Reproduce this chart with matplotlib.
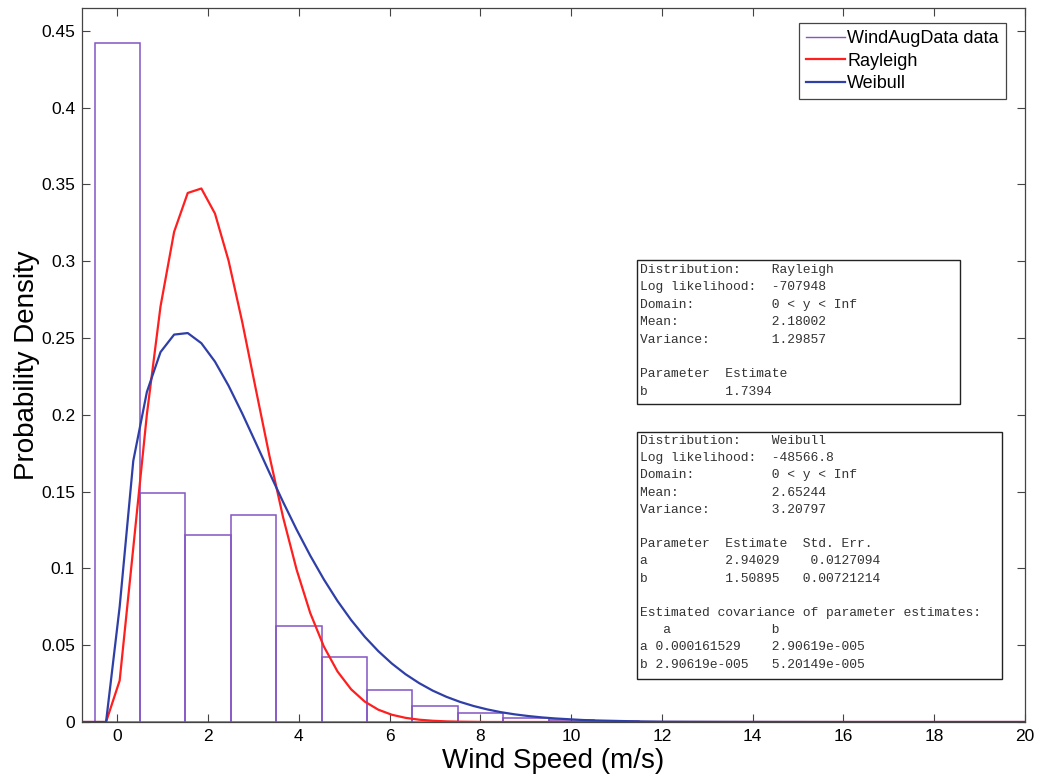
import matplotlib.pyplot as plt
from matplotlib.lines import Line2D
from matplotlib.patches import Rectangle
from matplotlib.ticker import FormatStrFormatter

plt.rcParams['font.family'] = ['Liberation Sans', 'DejaVu Sans']

# histogram of the wind data (bins of width 1, centred on integers)
bin_centers = [0, 1, 2, 3, 4, 5, 6, 7, 8, 9, 10, 11, 12]
bin_heights = [0.442, 0.149, 0.1215, 0.1346, 0.0627, 0.0423, 0.0208,
               0.0104, 0.0057, 0.0028, 0.0012, 0.0006, 0.0003]

# fitted curves
fit_x = [-0.78, -0.25, 0.05, 0.35, 0.65, 0.95, 1.25, 1.55, 1.85, 2.15,
         2.45, 2.75, 3.05, 3.35, 3.65, 3.95, 4.25, 4.55, 4.85, 5.15,
         5.45, 5.75, 6.05, 6.35, 6.65, 6.95, 7.25, 7.55, 7.85, 8.15,
         8.45, 8.75, 9.05, 9.35, 9.65, 9.95, 10.25, 10.55, 10.85, 11.15,
         11.45, 12.05, 13.25, 14.45, 16.25, 18.05, 20.0]
rayleigh_y = [0, 0, 0.027, 0.1134, 0.2003, 0.2705, 0.3191, 0.3444, 0.3473, 0.331,
              0.3003, 0.2605, 0.2167, 0.1733, 0.1334, 0.0991, 0.0709, 0.0491, 0.0329, 0.0213,
              0.0133, 0.0080, 0.0047, 0.0027, 0.0015, 0.0008, 0.0004, 0.0002, 0.0001, 0,
              0, 0, 0, 0, 0, 0, 0, 0, 0, 0,
              0, 0, 0, 0, 0, 0, 0]
weibull_y = [0, 0, 0.075, 0.170, 0.2149, 0.2408, 0.2522, 0.2532, 0.2466, 0.2346,
             0.2189, 0.2009, 0.1817, 0.1623, 0.1433, 0.1252, 0.1083, 0.0928, 0.0788, 0.0664,
             0.0555, 0.0461, 0.0380, 0.0311, 0.0253, 0.0204, 0.0164, 0.0131, 0.0104, 0.0082,
             0.0064, 0.0050, 0.0039, 0.0030, 0.0023, 0.0018, 0.0013, 0.0010, 0.0008, 0.0006,
             0.0004, 0.0002, 0.0001, 0.00005, 0, 0, 0]

legend_labels = ['WindAugData data', 'Rayleigh', 'Weibull']

rayleigh_text = ['Distribution:    Rayleigh',
                 'Log likelihood:  -707948',
                 'Domain:          0 < y < Inf',
                 'Mean:            2.18002',
                 'Variance:        1.29857',
                 '',
                 'Parameter  Estimate',
                 'b          1.7394']
weibull_text = ['Distribution:    Weibull',
                'Log likelihood:  -48566.8',
                'Domain:          0 < y < Inf',
                'Mean:            2.65244',
                'Variance:        3.20797',
                '',
                'Parameter  Estimate  Std. Err.',
                'a          2.94029    0.0127094',
                'b          1.50895   0.00721214',
                '',
                'Estimated covariance of parameter estimates:',
                '   a             b',
                'a 0.000161529    2.90619e-005',
                'b 2.90619e-005   5.20149e-005']

purple = '#8455c4'
red = '#ff1f1f'
blue = '#2f3fa8'

fig = plt.figure(figsize=(10.37, 7.78), dpi=100)
ax = fig.add_axes([82 / 1037, 56 / 778, 943 / 1037, 714 / 778])

ax.bar(bin_centers, bin_heights, width=1.0, fill=False, edgecolor=purple, linewidth=1.1)
ax.plot(fit_x, rayleigh_y, color=red, linewidth=1.6)
ax.plot(fit_x, weibull_y, color=blue, linewidth=1.6)

ax.set_xlim(-0.78, 20)
ax.set_ylim(0, 0.4648)
ax.set_xticks(range(0, 21, 2))
ax.set_yticks([i * 0.05 for i in range(10)])
ax.yaxis.set_major_formatter(FormatStrFormatter('%g'))
ax.tick_params(direction='in', top=True, right=True, length=6, width=0.8,
               color='#444444', labelsize=12.5, pad=5)
for s in ax.spines.values():
    s.set_color('#444444')
    s.set_linewidth(0.9)

ax.set_xlabel('Wind Speed (m/s)', fontsize=20, labelpad=3)
ax.set_ylabel('Probability Density', fontsize=20, labelpad=1)

handles = [Line2D([], [], color=purple, lw=1.0),
           Line2D([], [], color=red, lw=1.6),
           Line2D([], [], color=blue, lw=1.6)]
leg = ax.legend(handles, legend_labels, loc='upper right',
                bbox_to_anchor=((1006 - 82) / 943, (722 - 23) / 714),
                borderaxespad=0, fontsize=13, fancybox=False, framealpha=1,
                edgecolor='#444444', handlelength=2.2, handletextpad=0.1,
                labelspacing=0.3, borderpad=0.4)
leg.get_frame().set_linewidth(0.9)


def px(x, y):
    # picture pixel -> axes fraction
    return (x - 82) / 943, (722 - y) / 714


def info_box(lines, left, top, right, bottom, first_y, step):
    x0, y0 = px(left, bottom)
    x1, y1 = px(right, top)
    ax.add_patch(Rectangle((x0, y0), x1 - x0, y1 - y0, transform=ax.transAxes,
                           fill=True, facecolor='white', edgecolor='#222222',
                           linewidth=1.0, zorder=5))
    for i, line in enumerate(lines):
        tx, ty = px(left + 3, first_y + i * step)
        ax.text(tx, ty, line, transform=ax.transAxes, fontsize=9.4,
                family='Liberation Mono', va='center', ha='left',
                color='#333333', zorder=6)


info_box(rayleigh_text, 637, 260, 960, 404, 270, 17.4)
info_box(weibull_text, 637, 432, 1002, 679, 441, 17.2)

fig.savefig('out.png', dpi=100)
